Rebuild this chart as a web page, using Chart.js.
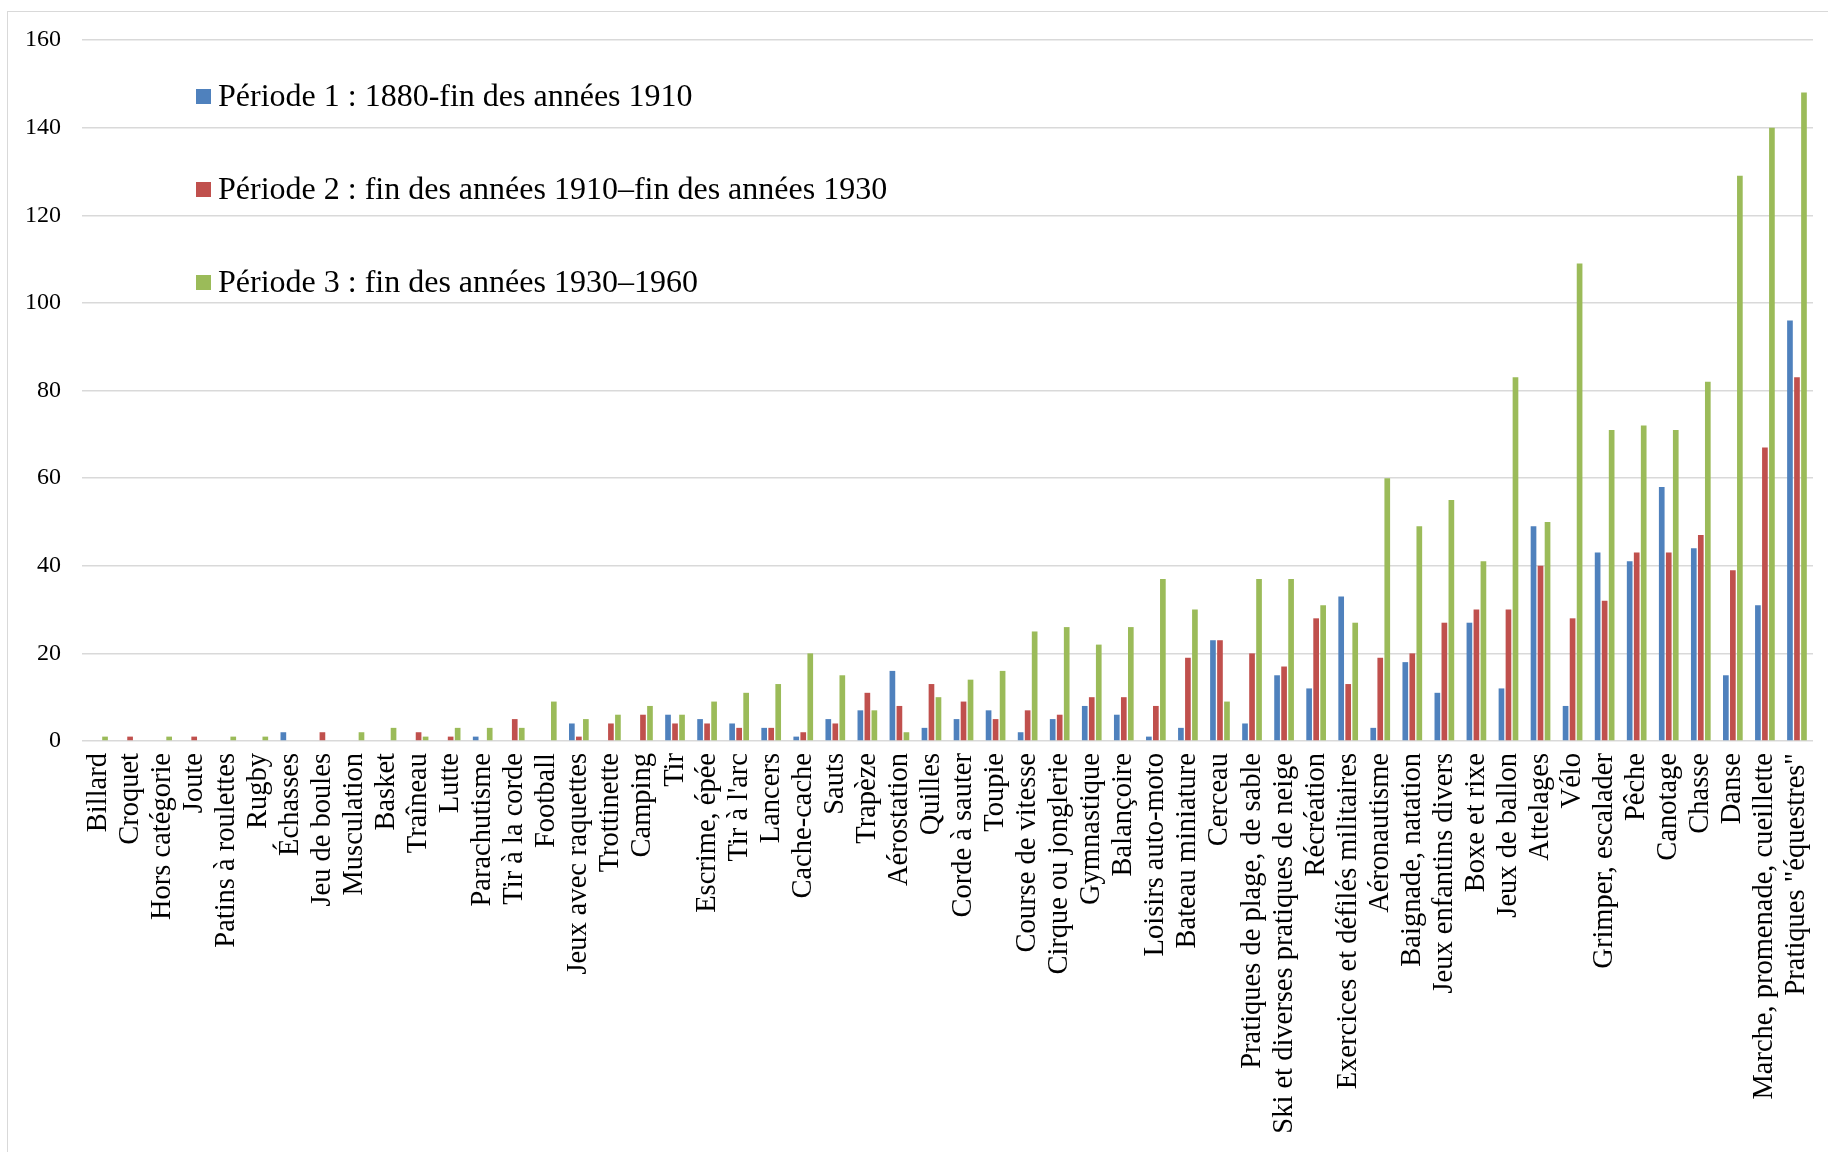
<!DOCTYPE html>
<html>
<head>
<meta charset="utf-8">
<script src="https://cdn.jsdelivr.net/npm/chart.js@4.4.1/dist/chart.umd.min.js"></script>
<style>
  body { margin: 0; background: #fff; overflow: hidden; }
  #wrap { position: relative; width: 1828px; height: 1152px; }
  #frame { position: absolute; left: 7px; top: 11px; width: 1900px; height: 1300px;
           border-left: 1.5px solid #d9d9d9; border-top: 1.5px solid #d9d9d9; }
  #mycanvas { position: absolute; left: 0; top: 0; }
</style>
</head>
<body>
<div id="wrap">
  <div id="frame"></div>
  <canvas id="mycanvas" width="1828" height="1152"></canvas>
</div>
<script>
// activités, triées comme dans le graphique d'origine
var activites = [
  "Billard", "Croquet", "Hors catégorie", "Joute", "Patins à roulettes", "Rugby",
  "Échasses", "Jeu de boules", "Musculation", "Basket", "Traîneau", "Lutte",
  "Parachutisme", "Tir à la corde", "Football", "Jeux avec raquettes", "Trottinette",
  "Camping", "Tir", "Escrime, épée", "Tir à l'arc", "Lancers", "Cache-cache", "Sauts",
  "Trapèze", "Aérostation", "Quilles", "Corde à sauter", "Toupie", "Course de vitesse",
  "Cirque ou jonglerie", "Gymnastique", "Balançoire", "Loisirs auto-moto",
  "Bateau miniature", "Cerceau", "Pratiques de plage, de sable",
  "Ski et diverses pratiques de neige", "Récréation", "Exercices et défilés militaires",
  "Aéronautisme", "Baignade, natation", "Jeux enfantins divers", "Boxe et rixe",
  "Jeux de ballon", "Attelages", "Vélo", "Grimper, escalader", "Pêche", "Canotage",
  "Chasse", "Danse", "Marche, promenade, cueillette", "Pratiques \"équestres\""
];

var periode1 = [0, 0, 0, 0, 0, 0, 2, 0, 0, 0, 0, 0, 1, 0, 0, 4, 0, 0, 6, 5, 4, 3, 1, 5,
                7, 16, 3, 5, 7, 2, 5, 8, 6, 1, 3, 23, 4, 15, 12, 33, 3, 18, 11, 27, 12, 49,
                8, 43, 41, 58, 44, 15, 31, 96];
var periode2 = [0, 1, 0, 1, 0, 0, 0, 2, 0, 0, 2, 1, 0, 5, 0, 1, 4, 6, 4, 4, 3, 3, 2, 4,
                11, 8, 13, 9, 5, 7, 6, 10, 10, 8, 19, 23, 20, 17, 28, 13, 19, 20, 27, 30,
                30, 40, 28, 32, 43, 43, 47, 39, 67, 83];
var periode3 = [1, 0, 1, 0, 1, 1, 0, 0, 2, 3, 1, 3, 3, 3, 9, 5, 6, 8, 6, 9, 11, 13, 20, 15,
                7, 2, 10, 14, 16, 25, 26, 22, 26, 37, 30, 9, 37, 37, 31, 27, 60, 49, 55, 41,
                83, 50, 109, 71, 72, 71, 82, 129, 140, 148];

var nomsPeriodes = [
  "Période 1 : 1880-fin des années 1910",
  "Période 2 : fin des années 1910–fin des années 1930",
  "Période 3 : fin des années 1930–1960"
];
var couleurs = ["#4F81BD", "#C0504D", "#9BBB59"];
var yTicks = [0, 20, 40, 60, 80, 100, 120, 140, 160];

Chart.defaults.font.family = '"Liberation Serif", "Times New Roman", serif';
Chart.defaults.color = "#000";

// legende dessinee dans la zone du graphique, en haut a gauche
var legendeInterne = {
  id: "legendeInterne",
  afterDraw: function(chart) {
    var ctx = chart.ctx;
    ctx.save();
    ctx.font = '32px "Liberation Serif", serif';
    ctx.textBaseline = "alphabetic";
    ctx.textAlign = "left";
    chart.data.datasets.forEach(function(ds, i) {
      var y = 106 + i * 93;
      ctx.fillStyle = ds.backgroundColor;
      ctx.fillRect(196, y - 17, 15, 15);
      ctx.fillStyle = "#000";
      ctx.fillText(ds.label, 218, y);
    });
    ctx.restore();
  }
};

var datasets = [periode1, periode2, periode3].map(function(vals, i) {
  return {
    label: nomsPeriodes[i],
    data: vals,
    backgroundColor: couleurs[i],
    borderWidth: 0,
    barPercentage: 0.81,
    categoryPercentage: 0.656
  };
});

var ctx = document.getElementById("mycanvas");
var graph = new Chart(ctx, {
  type: "bar",
  data: { labels: activites, datasets: datasets },
  plugins: [legendeInterne],
  options: {
    responsive: false,
    animation: false,
    events: [],
    layout: { padding: { top: 40, right: 15, bottom: 0, left: 0 } },
    plugins: { legend: { display: false }, tooltip: { enabled: false } },
    scales: {
      x: {
        grid: { display: false, drawTicks: false },
        border: { display: false },
        ticks: {
          autoSkip: false, minRotation: 90, maxRotation: 90,
          padding: 12, font: { size: 28.5 }, color: "#000"
        },
        afterFit: function(scale) {
          scale.height = 411;
          scale.paddingLeft = 0;
          scale.paddingRight = 0;
        }
      },
      y: {
        min: 0, max: 160,
        grid: { color: "#d9d9d9", lineWidth: 1.5, drawTicks: false },
        border: { display: false },
        ticks: { padding: 21, font: { size: 24 }, color: "#000" },
        afterBuildTicks: function(scale) {
          scale.ticks = yTicks.map(function(v) { return { value: v }; });
        },
        afterFit: function(scale) {
          scale.width = 82;
          scale.paddingTop = 0;
          scale.paddingBottom = 0;
        }
      }
    }
  }
});
</script>
</body>
</html>
